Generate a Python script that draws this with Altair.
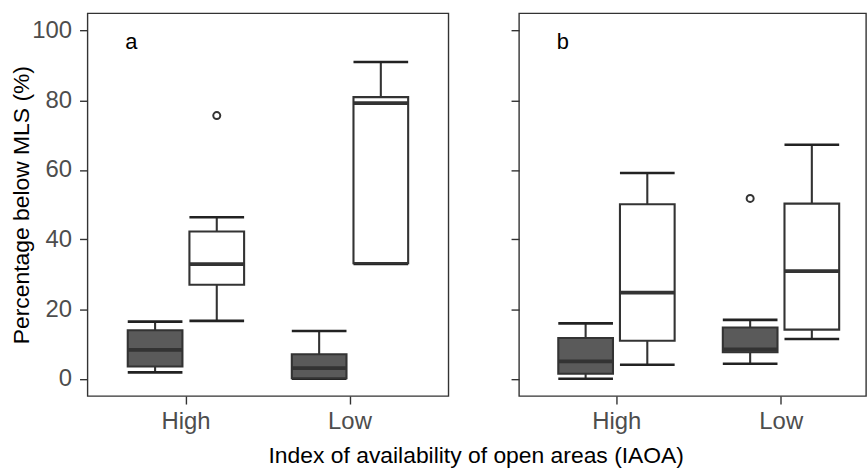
import altair as alt
import pandas as pd

# ---- data ----
panel = ["a", "a", "a", "a", "b", "b", "b", "b"]
iaoa = ["High", "High", "Low", "Low", "High", "High", "Low", "Low"]
grp = ["G1", "G2", "G1", "G2", "G1", "G2", "G1", "G2"]
whisker_low = [1.8, 16.6, 0.0, 33.0, 0.0, 4.0, 4.3, 11.4]
q1 = [3.5, 27.0, 0.1, 33.2, 1.4, 10.9, 7.6, 14.1]
median = [8.3, 32.9, 3.0, 79.2, 5.0, 24.7, 8.4, 30.9]
q3 = [13.9, 42.3, 7.0, 80.9, 11.7, 50.1, 14.7, 50.3]
whisker_high = [16.4, 46.4, 13.7, 91.0, 15.9, 59.1, 16.9, 67.2]

out_panel = ["a", "b"]
out_iaoa = ["High", "Low"]
out_grp = ["G2", "G1"]
out_value = [75.6, 51.8]

y_ticks = [0, 20, 40, 60, 80, 100]
categories = ["High", "Low"]
groups = ["G1", "G2"]

df = pd.DataFrame(dict(panel=panel, iaoa=iaoa, grp=grp, wlo=whisker_low,
                       q1=q1, med=median, q3=q3, whi=whisker_high))
odf = pd.DataFrame(dict(panel=out_panel, iaoa=out_iaoa, grp=out_grp, val=out_value))

FONT = "Liberation Sans"
DARK = "#333333"
YTITLE = "Percentage below MLS (%)"


def make_panel(p, width, x_scale, first):
    d = df[df.panel == p]
    o = odf[odf.panel == p]
    x = alt.X("iaoa:N", scale=x_scale,
              axis=alt.Axis(title=None, labelAngle=0, labelFontSize=24,
                            labelColor="#4d4d4d", labelFont=FONT, tickSize=8,
                            tickColor=DARK, tickWidth=1.4, domain=False,
                            labelPadding=6, grid=False))
    xo = alt.XOffset("grp:N", scale=alt.Scale(domain=groups, paddingInner=0,
                                              paddingOuter=0.33))
    yscale = alt.Scale(domain=[-5, 105], nice=False, zero=False)
    if first:
        yaxis = alt.Axis(values=y_ticks, title=YTITLE, labelFontSize=24,
                         labelColor="#4d4d4d", labelFont=FONT, tickSize=8,
                         tickColor=DARK, tickWidth=1.4, domain=False, grid=False,
                         labelPadding=8, titleFontSize=23, titleFont=FONT,
                         titleFontWeight="normal", titleColor="black",
                         titlePadding=-2)
    else:
        yaxis = alt.Axis(values=y_ticks, title=None, labels=False, tickSize=8,
                         tickColor=DARK, tickWidth=1.4, domain=False, grid=False)

    def Y(field):
        return alt.Y(field, scale=yscale, axis=yaxis)

    base = alt.Chart(d)
    wl = base.mark_rule(color=DARK, strokeWidth=2.1).encode(
        x=x, xOffset=xo, y=Y("wlo:Q"), y2="q1:Q")
    wh = base.mark_rule(color=DARK, strokeWidth=2.1).encode(
        x=x, xOffset=xo, y=Y("q3:Q"), y2="whi:Q")
    cl = base.mark_tick(color="#222222", size=55, thickness=2.6,
                        orient="horizontal", opacity=1).encode(
        x=x, xOffset=xo, y=Y("wlo:Q"))
    ch = base.mark_tick(color="#222222", size=55, thickness=2.6,
                        orient="horizontal", opacity=1).encode(
        x=x, xOffset=xo, y=Y("whi:Q"))
    box = base.mark_bar(width=55, stroke=DARK, strokeWidth=2.1, opacity=1).encode(
        x=x, xOffset=xo, y=Y("q1:Q"), y2="q3:Q",
        fill=alt.Fill("grp:N", scale=alt.Scale(domain=groups,
                                               range=["#5a5a5a", "#ffffff"]),
                      legend=None))
    med = base.mark_tick(color=DARK, size=55, thickness=3.8,
                         orient="horizontal", opacity=1).encode(
        x=x, xOffset=xo, y=Y("med:Q"))
    pts = alt.Chart(o).mark_point(color=DARK, filled=False, size=50,
                                  strokeWidth=2, opacity=1).encode(
        x=x, xOffset=xo, y=Y("val:Q"))
    lab = alt.Chart(pd.DataFrame({"t": [p]})).mark_text(
        font=FONT, fontSize=22, color="black", align="left",
        baseline="alphabetic").encode(x=alt.value(38), y=alt.value(36),
                                      text="t:N")
    return alt.layer(wl, wh, cl, ch, box, med, pts, lab).properties(
        width=width, height=385)


pa = make_panel("a", 363, alt.Scale(domain=categories, paddingInner=0,
                                    paddingOuter=0.1), True)
pb = make_panel("b", 349, alt.Scale(domain=categories, paddingInner=0,
                                    paddingOuter=0.0545, align=0.86), False)

chart = alt.hconcat(pa, pb, spacing=60).properties(
    title=alt.TitleParams("Index of availability of open areas (IAOA)",
                          orient="bottom", anchor="middle", offset=11, dx=38,
                          fontSize=23, fontWeight="normal", font=FONT,
                          color="black"),
    padding={"left": 10, "top": 11, "right": 1, "bottom": 0},
    background="white",
).configure_view(stroke=DARK, strokeWidth=1.4)

chart.save("out.html", embed_options={"renderer": "svg", "actions": False})
